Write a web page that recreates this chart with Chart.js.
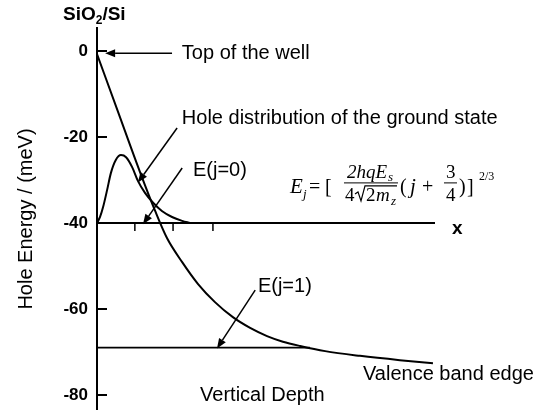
<!DOCTYPE html>
<html>
<head>
<meta charset="utf-8">
<script src="https://cdn.jsdelivr.net/npm/chart.js@4"></script>
<style>html,body{margin:0;padding:0;background:#fff}canvas{display:block}</style>
</head>
<body>
<canvas id="c" width="550" height="410"></canvas>
<script>
// ---- data ----
const valenceX = [0, 6.2, 12.7, 17.2, 20.7, 25.2, 29.9, 34.9, 40.2, 45.3, 50.3, 55.0, 60.1, 67.5, 77.8, 89.6, 99.4];
const valenceY = [-0.7, -14.1, -28.1, -37.2, -43.5, -49.1, -54.2, -58.4, -61.9, -64.4, -66.3, -67.6, -68.6, -69.8, -70.9, -71.9, -72.6];
const holeX = [0, 0.9, 1.8, 3.0, 4.1, 5.6, 7.1, 8.6, 10.4, 12.1, 14.2, 16.6, 19.2, 22.2, 25.2, 27.5];
const holeY = [-40, -38.6, -36.3, -32.3, -28.4, -25.3, -24.2, -24.7, -27.0, -30.2, -33.0, -35.3, -37.2, -38.6, -39.5, -40];
const level0X = [0, 100];
const level0Y = [-40, -40];
const level1X = [0, 63];
const level1Y = [-69, -69];
const yTickValues = [0, -20, -40, -60, -80];
const yTickLabels = ['0', '-20', '-40', '-60', '-80'];
const depthTickMarks = [11.2, 22.5, 34.3];
const yAxisTitle = 'Hole Energy / (meV)';

// annotations (text anchored in data space; arrows from tail to head)
const labels = [
  { text: 'Top of the well', x: 25.1, y: -0.5 },
  { text: 'Hole distribution of the ground state', x: 25.1, y: -15.8 },
  { text: 'E(j=0)', x: 28.4, y: -27.9 },
  { text: 'E(j=1)', x: 47.6, y: -54.7 },
  { text: 'Valence band edge', x: 78.7, y: -75.3 },
  { text: 'Vertical Depth', x: 30.5, y: -80.0 }
];
const arrows = [
  { from: [22.2, -0.5], to: [2.4, -0.5] },
  { from: [23.7, -17.9], to: [12.1, -30.6] },
  { from: [25.2, -27.2], to: [13.6, -40.3] },
  { from: [46.8, -55.6], to: [35.5, -69.2] }
];
const axisXLabel = { text: 'x', x: 105, y: -41.4 };
const formulaAnchor = { x: 57.1, y: -33.0 };

const SANS = '"Liberation Sans", Arial, Helvetica, sans-serif';
const SERIF = '"Liberation Serif", "Times New Roman", serif';

function toPts(xs, ys) { return xs.map((x, i) => ({ x: x, y: ys[i] })); }

const decor = {
  id: 'decor',
  afterDraw(chart) {
    const ctx = chart.ctx, xs = chart.scales.x, ys = chart.scales.y, area = chart.chartArea;
    const X = v => xs.getPixelForValue(v), Y = v => ys.getPixelForValue(v);
    ctx.save();
    ctx.strokeStyle = '#000'; ctx.fillStyle = '#000';
    // inward tick marks on the energy axis
    ctx.lineWidth = 2;
    yTickValues.forEach(v => {
      const y = Math.round(Y(v));
      ctx.beginPath(); ctx.moveTo(area.left, y); ctx.lineTo(area.left + 10, y); ctx.stroke();
    });
    // small tick marks on the depth axis (the -40 line)
    ctx.lineWidth = 1.5;
    depthTickMarks.forEach(v => {
      const x = X(v);
      ctx.beginPath(); ctx.moveTo(x, Y(-40)); ctx.lineTo(x, Y(-40) + 8); ctx.stroke();
    });
    // arrows
    ctx.lineWidth = 1.5;
    arrows.forEach(a => {
      const x1 = X(a.from[0]), y1 = Y(a.from[1]), x2 = X(a.to[0]), y2 = Y(a.to[1]);
      const ang = Math.atan2(y2 - y1, x2 - x1), L = 10, W = 4;
      const bx = x2 - L * Math.cos(ang), by = y2 - L * Math.sin(ang);
      ctx.beginPath(); ctx.moveTo(x1, y1); ctx.lineTo(bx, by); ctx.stroke();
      ctx.beginPath();
      ctx.moveTo(x2, y2);
      ctx.lineTo(bx + W * Math.sin(ang), by - W * Math.cos(ang));
      ctx.lineTo(bx - W * Math.sin(ang), by + W * Math.cos(ang));
      ctx.closePath(); ctx.fill();
    });
    // text labels
    ctx.textAlign = 'left'; ctx.textBaseline = 'middle';
    ctx.font = '20px ' + SANS;
    labels.forEach(l => ctx.fillText(l.text, X(l.x), Y(l.y)));
    ctx.font = 'bold 19px ' + SANS;
    ctx.fillText(axisXLabel.text, X(axisXLabel.x), Y(axisXLabel.y));
    // SiO2/Si header above the energy axis
    ctx.textBaseline = 'alphabetic';
    let hx = area.left - 34, hy = area.top - 8;
    ctx.font = 'bold 19px ' + SANS;
    ctx.fillText('SiO', hx, hy); hx += ctx.measureText('SiO').width;
    ctx.font = 'bold 12px ' + SANS;
    ctx.fillText('2', hx, hy + 4); hx += ctx.measureText('2').width;
    ctx.font = 'bold 19px ' + SANS;
    ctx.fillText('/Si', hx, hy);
    // formula
    const ox = X(formulaAnchor.x), oy = Y(formulaAnchor.y);
    const t = (s, dx, dy, f) => { ctx.font = f; ctx.fillText(s, ox + dx, oy + dy); };
    const it = 'italic 21px ' + SERIF, itS = 'italic 13px ' + SERIF, itM = 'italic 19px ' + SERIF;
    const up = '20px ' + SERIF, upM = '19px ' + SERIF, upS = '12px ' + SERIF;
    t('E', 0, 0, it); t('j', 13, 5, itS); t('=', 19, 0, up); t('[', 35, 0, up);
    t('2hqE', 57, -15, itM); t('s', 98, -12, itS);
    t('4', 55, 8, upM);
    ctx.lineWidth = 1.2;
    ctx.beginPath();
    ctx.moveTo(ox + 65, oy + 1); ctx.lineTo(ox + 68, oy - 1); ctx.lineTo(ox + 71, oy + 8);
    ctx.lineTo(ox + 75, oy - 7); ctx.lineTo(ox + 107, oy - 7); ctx.stroke();
    t('2', 76, 8, upM); t('m', 86, 8, itM); t('z', 101, 12, itS);
    ctx.lineWidth = 1;
    ctx.beginPath(); ctx.moveTo(ox + 54, oy - 10); ctx.lineTo(ox + 108, oy - 10); ctx.stroke();
    t('(', 110, 0, up); t('j', 120, 0, it); t('+', 132, 0, up);
    t('3', 156, -15, upM); t('4', 156, 8, upM);
    ctx.beginPath(); ctx.moveTo(ox + 154, oy - 10); ctx.lineTo(ox + 167, oy - 10); ctx.stroke();
    t(')', 169, 0, up); t(']', 177, 0, up); t('2/3', 189, -13, upS);
    ctx.restore();
  }
};

const lineDs = (label, pts, width, smooth) => ({
  label: label, data: pts, showLine: true, borderColor: '#000', borderWidth: width,
  pointRadius: 0, fill: false, cubicInterpolationMode: smooth ? 'monotone' : 'default', tension: 0
});

new Chart(document.getElementById('c'), {
  type: 'scatter',
  data: {
    datasets: [
      lineDs('Valence band edge', toPts(valenceX, valenceY), 2, true),
      lineDs('Hole distribution of the ground state', toPts(holeX, holeY), 2, true),
      lineDs('E(j=0)', toPts(level0X, level0Y), 1.8, false),
      lineDs('E(j=1)', toPts(level1X, level1Y), 1.8, false)
    ]
  },
  options: {
    responsive: false,
    animation: false,
    events: [],
    layout: { padding: { left: 0, top: 28, right: 115, bottom: 0 } },
    plugins: { legend: { display: false }, tooltip: { enabled: false } },
    scales: {
      x: { type: 'linear', min: 0, max: 100, display: false },
      y: {
        type: 'linear', min: -83.49, max: 5.35,
        grid: { display: false, drawTicks: false },
        border: { display: true, color: '#000', width: 2 },
        ticks: {
          color: '#000', padding: 9,
          font: { family: SANS, size: 17, weight: 'bold' },
          callback: (v) => { const i = yTickValues.indexOf(v); return i >= 0 ? yTickLabels[i] : ''; }
        },
        title: {
          display: true, text: yAxisTitle, color: '#000',
          font: { family: SANS, size: 20 }, padding: { top: 14, bottom: 0 }
        },
        afterBuildTicks: (s) => { s.ticks = yTickValues.map(v => ({ value: v })); },
        afterFit: (s) => { s.width = 97; s.paddingTop = 0; s.paddingBottom = 0; }
      }
    }
  },
  plugins: [decor]
});
</script>
</body>
</html>
